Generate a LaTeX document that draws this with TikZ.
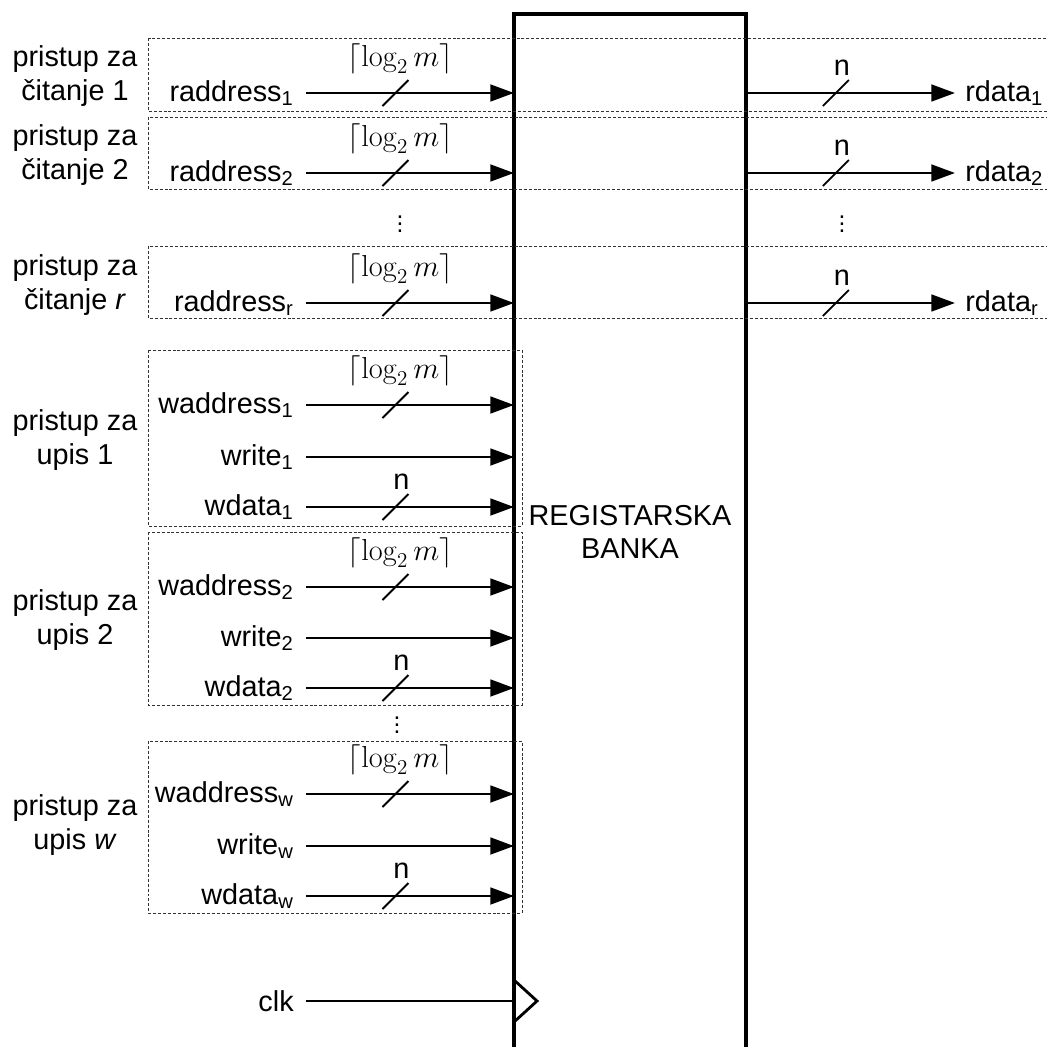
\documentclass[tikz,border=0pt]{standalone}
\usepackage[no-math]{fontspec}
\setmainfont{Liberation Sans}
\usetikzlibrary{arrows.meta,positioning}

\begin{document}
\begin{tikzpicture}[x=0.02cm,y=-0.02cm,
  every node/.style={font=\fontsize{16.4}{19}\selectfont,inner sep=0pt},
  sig/.style={line width=1.6pt,-{Triangle[length=13.5pt,width=9.5pt]}},
  wire/.style={line width=1.6pt},
  slash/.style={line width=1.1pt},
  grp/.style={draw=black!80,line width=0.5pt,dash pattern=on 1.7pt off 1.1pt},
  inl/.style={anchor=east,inner xsep=6.8pt},
  outl/.style={anchor=west,inner xsep=5.7pt},
  logm/.style={font=\fontsize{17}{20}\selectfont},
  dots/.style={font=\fontsize{14}{16}\selectfont}]
\useasboundingbox (0,0) rectangle (1046,1047);
% register bank
\coordinate (bl) at (514,14);
\coordinate (br) at (746,14);
\draw[line width=2pt] (514,1070) -- (bl) -- (br) -- (746,1070);
\node[align=center] (rb) at (630,532) {REGISTARSKA\\BANKA};
% read ports
\draw[grp] (148,38) rectangle (1070,111);
\draw[grp] (148,117) rectangle (1070,189);
\draw[grp] (148,246) rectangle (1070,318);
\node[align=center] (rp1) at (75,76) {pristup za\\čitanje 1};
\node[align=center] (rp2) at (75,155) {pristup za\\čitanje 2};
\node[align=center] (rpr) at (75,285) {pristup za\\čitanje \textit{r}};
\node[inl] (ra1) at (306,93) {raddress\textsubscript{1}};
\node[inl] (ra2) at (306,173) {raddress\textsubscript{2}};
\node[inl] (rar) at (306,303) {raddress\textsubscript{r}};
\node[outl] (rd1) at (955,93) {rdata\textsubscript{1}};
\node[outl] (rd2) at (955,173) {rdata\textsubscript{2}};
\node[outl] (rdr) at (955,303) {rdata\textsubscript{r}};
\draw[sig] (ra1.east) -- coordinate[pos=.43] (ra1s) (ra1.east -| bl);
\draw[sig] (ra2.east) -- coordinate[pos=.43] (ra2s) (ra2.east -| bl);
\draw[sig] (rar.east) -- coordinate[pos=.43] (rars) (rar.east -| bl);
\draw[sig] (rd1.west -| br) -- coordinate[pos=.43] (rd1s) (rd1.west);
\draw[sig] (rd2.west -| br) -- coordinate[pos=.43] (rd2s) (rd2.west);
\draw[sig] (rdr.west -| br) -- coordinate[pos=.43] (rdrs) (rdr.west);
\draw[slash] ([shift={(-13,13)}]ra1s) -- ([shift={(13,-13)}]ra1s);
\draw[slash] ([shift={(-13,13)}]ra2s) -- ([shift={(13,-13)}]ra2s);
\draw[slash] ([shift={(-13,13)}]rars) -- ([shift={(13,-13)}]rars);
\draw[slash] ([shift={(-13,13)}]rd1s) -- ([shift={(13,-13)}]rd1s);
\draw[slash] ([shift={(-13,13)}]rd2s) -- ([shift={(13,-13)}]rd2s);
\draw[slash] ([shift={(-13,13)}]rdrs) -- ([shift={(13,-13)}]rdrs);
\node[logm] (ra1w) at ([shift={(5,-34)}]ra1s) {$\bigl\lceil\log_2 m\bigr\rceil$};
\node[logm] (ra2w) at ([shift={(5,-34)}]ra2s) {$\bigl\lceil\log_2 m\bigr\rceil$};
\node[logm] (rarw) at ([shift={(5,-34)}]rars) {$\bigl\lceil\log_2 m\bigr\rceil$};
\node (rd1w) at ([shift={(6,-25)}]rd1s) {n};
\node (rd2w) at ([shift={(6,-25)}]rd2s) {n};
\node (rdrw) at ([shift={(6,-25)}]rdrs) {n};
\node[dots] (rdotl) at (400,219) {$\vdots$};
\node[dots] (rdotr) at (842,219) {$\vdots$};
% write port 1
\draw[grp] (148,350) rectangle (522,526);
\node[align=center] (wp1) at (75,440) {pristup za\\upis 1};
\node[inl] (wa1) at (306,405) {waddress\textsubscript{1}};
\node[inl] (we1) at (306,457) {write\textsubscript{1}};
\node[inl] (wd1) at (306,507) {wdata\textsubscript{1}};
\draw[sig] (wa1.east) -- coordinate[pos=.43] (wa1s) (wa1.east -| bl);
\draw[sig] (we1.east) -- (we1.east -| bl);
\draw[sig] (wd1.east) -- coordinate[pos=.43] (wd1s) (wd1.east -| bl);
\draw[slash] ([shift={(-13,13)}]wa1s) -- ([shift={(13,-13)}]wa1s);
\draw[slash] ([shift={(-13,13)}]wd1s) -- ([shift={(13,-13)}]wd1s);
\node[logm] (wa1w) at ([shift={(5,-34)}]wa1s) {$\bigl\lceil\log_2 m\bigr\rceil$};
\node (wd1w) at ([shift={(6,-25)}]wd1s) {n};
% write port 2
\draw[grp] (148,532) rectangle (522,705);
\node[align=center] (wp2) at (75,620) {pristup za\\upis 2};
\node[inl] (wa2) at (306,587) {waddress\textsubscript{2}};
\node[inl] (we2) at (306,638) {write\textsubscript{2}};
\node[inl] (wd2) at (306,688) {wdata\textsubscript{2}};
\draw[sig] (wa2.east) -- coordinate[pos=.43] (wa2s) (wa2.east -| bl);
\draw[sig] (we2.east) -- (we2.east -| bl);
\draw[sig] (wd2.east) -- coordinate[pos=.43] (wd2s) (wd2.east -| bl);
\draw[slash] ([shift={(-13,13)}]wa2s) -- ([shift={(13,-13)}]wa2s);
\draw[slash] ([shift={(-13,13)}]wd2s) -- ([shift={(13,-13)}]wd2s);
\node[logm] (wa2w) at ([shift={(5,-34)}]wa2s) {$\bigl\lceil\log_2 m\bigr\rceil$};
\node (wd2w) at ([shift={(6,-25)}]wd2s) {n};
\node[dots] (wdot) at (397,720) {$\vdots$};
% write port w
\draw[grp] (148,741) rectangle (522,913);
\node[align=center] (wpw) at (75,825) {pristup za\\upis \textit{w}};
\node[inl] (waw) at (306,794) {waddress\textsubscript{w}};
\node[inl] (wew) at (306,846) {write\textsubscript{w}};
\node[inl] (wdw) at (306,896) {wdata\textsubscript{w}};
\draw[sig] (waw.east) -- coordinate[pos=.43] (waws) (waw.east -| bl);
\draw[sig] (wew.east) -- (wew.east -| bl);
\draw[sig] (wdw.east) -- coordinate[pos=.43] (wdws) (wdw.east -| bl);
\draw[slash] ([shift={(-13,13)}]waws) -- ([shift={(13,-13)}]waws);
\draw[slash] ([shift={(-13,13)}]wdws) -- ([shift={(13,-13)}]wdws);
\node[logm] (waww) at ([shift={(5,-34)}]waws) {$\bigl\lceil\log_2 m\bigr\rceil$};
\node (wdww) at ([shift={(6,-25)}]wdws) {n};
% clock
\node[inl] (clk) at (306,1001) {clk};
\coordinate (ck) at (clk.east -| bl);
\draw[wire] (clk.east) -- (ck);
\draw[wire] ([shift={(0,-21)}]ck) -- ([shift={(23,0)}]ck) -- ([shift={(0,21)}]ck);
\end{tikzpicture}
\end{document}
